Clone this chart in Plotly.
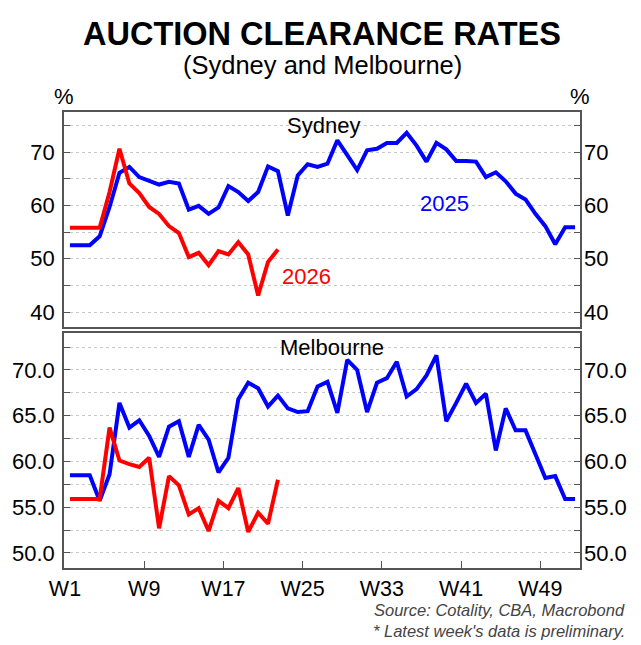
import plotly.graph_objects as go

weeks = list(range(1, 53))
tick_labels = ["W1", "W9", "W17", "W25", "W33", "W41", "W49"]
tick_pos = [0.5, 8.5, 16.5, 24.5, 32.5, 40.5, 48.5]

syd_2025 = [52.5, 52.5, 52.5, 54.2, 59.7, 66.1, 67.2, 65.3, 64.5, 63.9,
            64.4, 64.1, 59.2, 59.9, 58.4, 59.6, 63.6, 62.5, 60.8, 62.5,
            67.3, 66.4, 58.1, 65.6, 67.7, 67.2, 67.8, 72.2, 69.4, 66.6,
            70.3, 70.6, 71.7, 71.7, 73.6, 71.2, 68.2, 71.7, 70.5, 68.3,
            68.3, 68.2, 65.3, 66.2, 64.5, 62.2, 61.1, 58.4, 56.1, 52.7,
            55.9, 55.9]
syd_2026 = [55.8, 55.8, 55.8, 55.8, 62.5, 70.6, 64.1, 62.3, 59.7, 58.4,
            56.1, 54.8, 50.3, 51.1, 48.8, 51.4, 50.8, 53.1, 50.8, 43.1,
            49.4, 51.7]
mel_2025 = [58.5, 58.5, 58.5, 55.7, 58.6, 66.4, 63.7, 64.5, 62.8, 60.5,
            63.8, 64.4, 60.5, 64.0, 62.4, 58.8, 60.4, 66.8, 68.6, 68.0,
            66.0, 67.2, 65.8, 65.4, 65.5, 68.2, 68.7, 65.3, 71.1, 70.0,
            65.4, 68.6, 69.1, 70.9, 67.1, 67.9, 69.4, 71.6, 64.4, 66.4,
            68.5, 66.4, 67.4, 61.2, 65.8, 63.4, 63.4, 60.8, 58.2, 58.4,
            55.9, 55.9]
mel_2026 = [55.9, 55.9, 55.9, 55.9, 63.7, 60.1, 59.7, 59.4, 60.4, 52.7,
            58.4, 57.4, 54.2, 54.9, 52.4, 55.7, 54.9, 57.1, 52.3, 54.4,
            53.2, 58.0]

BLUE = "#0000FF"
RED = "#FF0000"
FONT = "Liberation Sans, Arial, sans-serif"
FRAME = "#555555"
GRID = "#c8c8c8"
FS = 22

fig = go.Figure()

def line(x, y, color, xa, ya):
    fig.add_trace(go.Scatter(x=x, y=y, mode="lines", xaxis=xa, yaxis=ya,
                             line=dict(color=color, width=4), showlegend=False,
                             hoverinfo="skip"))

line(weeks, syd_2025, BLUE, "x2", "y")
line(weeks[:len(syd_2026)], syd_2026, RED, "x2", "y")
line(weeks, mel_2025, BLUE, "x", "y2")
line(weeks[:len(mel_2026)], mel_2026, RED, "x", "y2")
# invisible carriers for right-hand axes
fig.add_trace(go.Scatter(x=weeks, y=syd_2025, mode="lines", xaxis="x2", yaxis="y3",
                         line=dict(width=0, color="rgba(0,0,0,0)"), showlegend=False, hoverinfo="skip"))
fig.add_trace(go.Scatter(x=weeks, y=mel_2025, mode="lines", xaxis="x", yaxis="y4",
                         line=dict(width=0, color="rgba(0,0,0,0)"), showlegend=False, hoverinfo="skip"))

xrange = [0.4, 52.5]
top_range = [37.19, 77.5]
bot_range = [48.36, 74.04]
tickfont = dict(family=FONT, size=FS, color="black")

common_x = dict(range=xrange, showline=True, linecolor=FRAME, linewidth=1.5, mirror=True,
                showgrid=False, zeroline=False, fixedrange=True)
fig.update_layout(
    width=641, height=645,
    margin=dict(l=60, r=61, t=112, b=77),
    paper_bgcolor="white", plot_bgcolor="white",
    font=dict(family=FONT, color="black"),
    xaxis=dict(**common_x, anchor="y2", tickmode="array", tickvals=tick_pos, ticktext=tick_labels,
               ticks="inside", ticklen=7, tickcolor=FRAME, tickwidth=1.2,
               tickfont=dict(family=FONT, size=21.5, color="black"),
               ticklabelstandoff=0),
    xaxis2=dict(**common_x, anchor="y", matches="x", showticklabels=False, ticks=""),
    yaxis=dict(domain=[0.5285, 1], anchor="x2", range=top_range, tickmode="array",
               tickvals=[40, 50, 60, 70], showline=True, linecolor=FRAME, linewidth=1.5,
               mirror="ticks", ticks="inside", ticklen=6, tickcolor=FRAME, tickwidth=1.2,
               showgrid=True, gridcolor=GRID, griddash="dot", gridwidth=1, zeroline=False,
               tickfont=tickfont, ticklabelstandoff=3,
               minor=dict(tickvals=[45, 55, 65, 75], ticks="inside", ticklen=6, tickcolor=FRAME,
                          showgrid=True, gridcolor=GRID, griddash="dot", gridwidth=1)),
    yaxis2=dict(domain=[0, 0.5154], anchor="x", range=bot_range, tickmode="array",
                tickvals=[50, 55, 60, 65, 70], ticktext=["50.0", "55.0", "60.0", "65.0", "70.0"],
                showline=True, linecolor=FRAME, linewidth=1.5,
                mirror="ticks", ticks="inside", ticklen=6, tickcolor=FRAME, tickwidth=1.2,
                showgrid=True, gridcolor=GRID, griddash="dot", gridwidth=1, zeroline=False,
                tickfont=tickfont, ticklabelstandoff=3,
                minor=dict(tickvals=[52.5, 57.5, 62.5, 67.5, 72.5], ticks="inside", ticklen=6,
                           tickcolor=FRAME, showgrid=True, gridcolor=GRID, griddash="dot", gridwidth=1)),
    yaxis3=dict(overlaying="y", side="right", anchor="x2", range=top_range, tickmode="array",
                tickvals=[40, 50, 60, 70], showgrid=False, zeroline=False, showline=False,
                ticks="", tickfont=tickfont, ticklabelstandoff=3),
    yaxis4=dict(overlaying="y2", side="right", anchor="x", range=bot_range, tickmode="array",
                tickvals=[50, 55, 60, 65, 70], ticktext=["50.0", "55.0", "60.0", "65.0", "70.0"],
                showgrid=False, zeroline=False, showline=False,
                ticks="", tickfont=tickfont, ticklabelstandoff=3),
)

ann = []
ann.append(dict(text="<b>AUCTION CLEARANCE RATES</b>", xref="paper", yref="paper", x=0.5, y=1.172,
                xanchor="center", yanchor="middle", showarrow=False,
                font=dict(family=FONT, size=32.5, color="black")))
ann.append(dict(text="(Sydney and Melbourne)", xref="paper", yref="paper", x=0.5, y=1.103,
                xanchor="center", yanchor="middle", showarrow=False,
                font=dict(family=FONT, size=25.5, color="black")))
ann.append(dict(text="%", xref="paper", yref="paper", x=0.0, y=1.034, xanchor="center",
                yanchor="middle", showarrow=False, font=dict(family=FONT, size=FS, color="black")))
ann.append(dict(text="%", xref="paper", yref="paper", x=1.0, y=1.034, xanchor="center",
                yanchor="middle", showarrow=False, font=dict(family=FONT, size=FS, color="black")))
ann.append(dict(text="Sydney", xref="x2", yref="y", x=26.65, y=75.0, xanchor="center",
                yanchor="middle", showarrow=False, font=dict(family=FONT, size=FS, color="black")))
ann.append(dict(text="Melbourne", xref="x", yref="y2", x=27.45, y=72.5, xanchor="center",
                yanchor="middle", showarrow=False, font=dict(family=FONT, size=FS, color="black")))
ann.append(dict(text="2025", xref="x2", yref="y", x=38.8, y=60.4, xanchor="center",
                yanchor="middle", showarrow=False, font=dict(family=FONT, size=FS, color=BLUE)))
ann.append(dict(text="2026", xref="x2", yref="y", x=24.9, y=46.6, xanchor="center",
                yanchor="middle", showarrow=False, font=dict(family=FONT, size=FS, color=RED)))
ann.append(dict(text="<i>Source: Cotality, CBA, Macrobond</i>", xref="paper", yref="paper",
                x=1.092, y=-0.093, xanchor="right", yanchor="middle", showarrow=False,
                font=dict(family=FONT, size=16.5, color="#444444")))
ann.append(dict(text="<i>* Latest week's data is preliminary.</i>", xref="paper", yref="paper",
                x=1.092, y=-0.139, xanchor="right", yanchor="middle", showarrow=False,
                font=dict(family=FONT, size=16.5, color="#444444")))
fig.update_layout(annotations=ann)

fig.write_html("out.html")
